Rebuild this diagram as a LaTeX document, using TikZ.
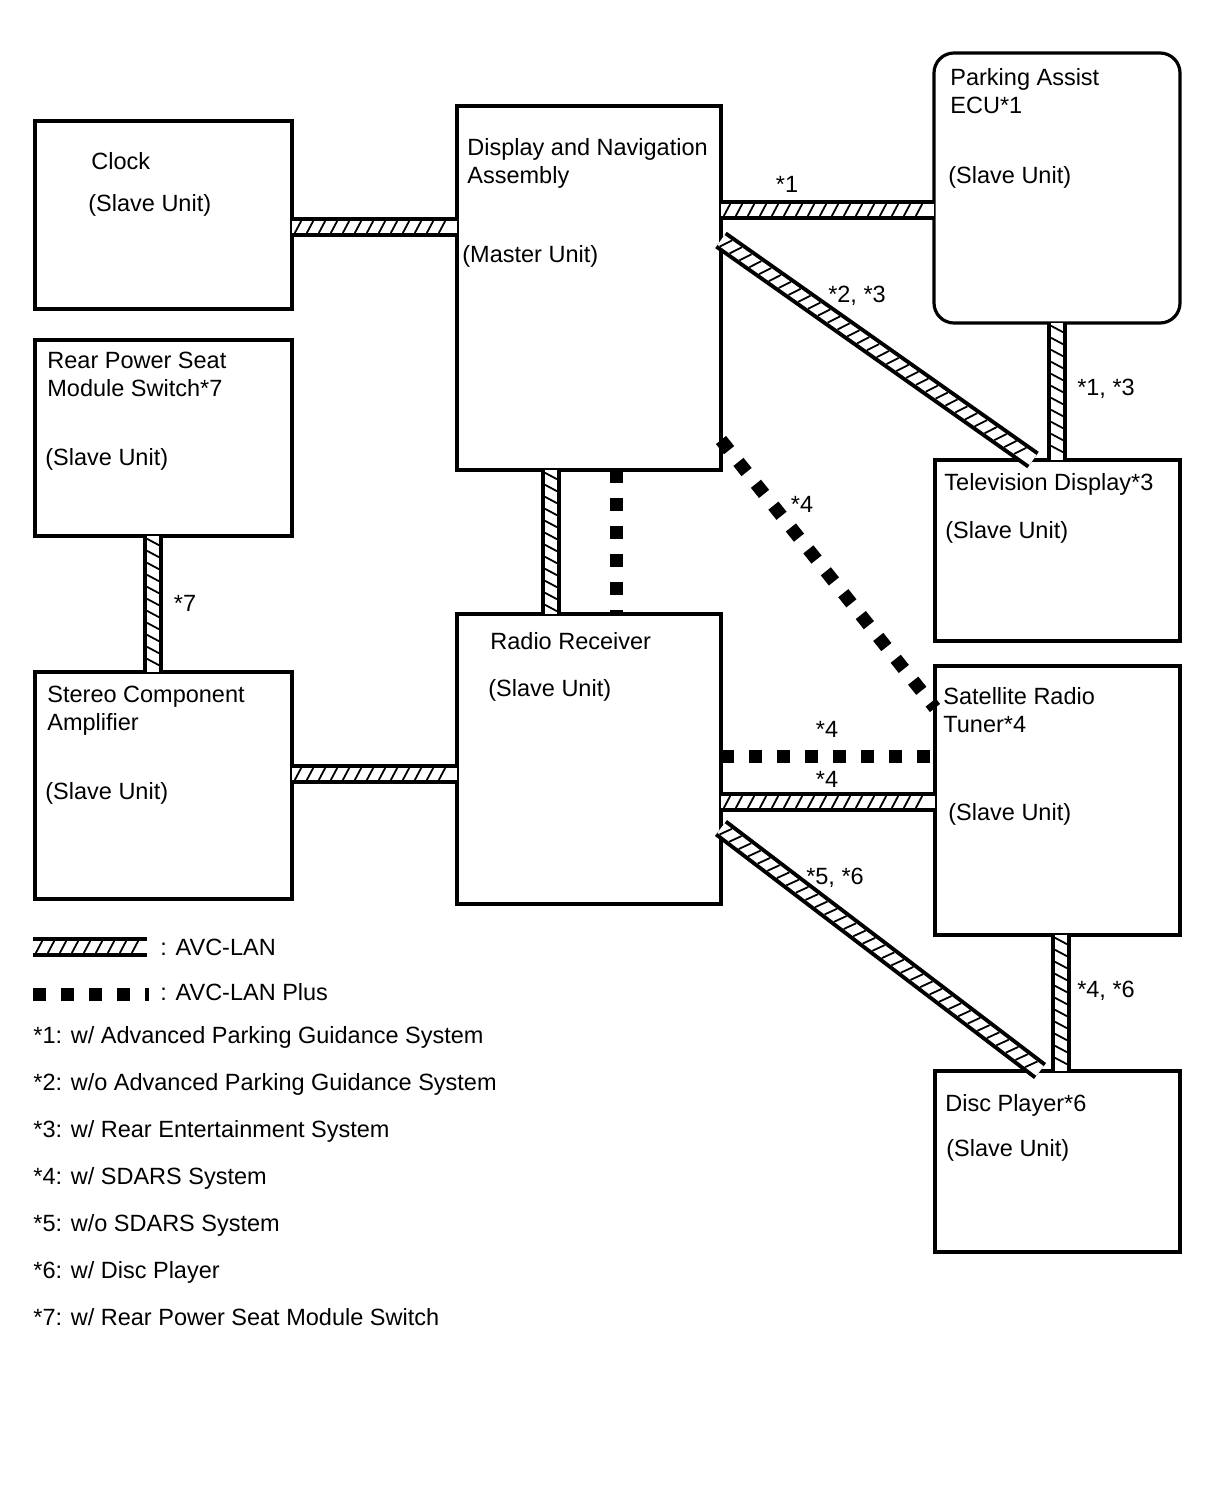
\documentclass[tikz,border=0pt]{standalone}
\usepackage{fontspec}
\setmainfont{Liberation Sans}
\usepackage{tikz}
\usetikzlibrary{decorations.markings}

\tikzset{
  unitbox/.style={draw, line width=1.6pt, inner sep=0pt, outer sep=0pt, anchor=north west},
  txt/.style={anchor=base west, inner sep=0pt},
  lbl/.style={inner sep=0pt},
  avclan/.style={line width=10pt, postaction={draw=white, line width=6pt},
    postaction={decorate, decoration={markings,
      mark=between positions 3pt and -3pt step 6pt with
        {\draw[black, solid, line width=0.9pt] (-1.6pt,-3pt) -- (1.6pt,3pt);}}}},
  avcplus/.style={line width=6.5pt, dash pattern=on 6.5pt off 7.5pt},
}

\begin{document}
\begin{tikzpicture}[x=0.5pt, y=-0.5pt, font=\fontsize{11.75}{14}\selectfont]
  \useasboundingbox (0,0) rectangle (1210,1498);

  % Units
  \node[unitbox, minimum width=128.5pt, minimum height=94pt] (clock) at (35,121) {};
  \node[unitbox, minimum width=132pt, minimum height=182pt] (dna) at (457,106) {};
  \node[unitbox, minimum width=123pt, minimum height=135pt, rounded corners=10pt] (pa) at (934,53) {};
  \node[unitbox, minimum width=128.5pt, minimum height=98pt] (rear) at (35,340) {};
  \node[unitbox, minimum width=122.5pt, minimum height=90.5pt] (tv) at (935,460) {};
  \node[unitbox, minimum width=128.5pt, minimum height=113.5pt] (stereo) at (35,672) {};
  \node[unitbox, minimum width=132pt, minimum height=145pt] (radio) at (457,614) {};
  \node[unitbox, minimum width=122.5pt, minimum height=134.5pt] (sat) at (935,666) {};
  \node[unitbox, minimum width=122.5pt, minimum height=90.5pt] (disc) at (935,1071) {};

  % Unit texts
  \node[txt] (clockname) at (91,170) {Clock};
  \node[txt] (clockrole) at (88,212) {(Slave Unit)};
  \node[txt] (dnaname) at (467,156) {Display and Navigation};
  \node[txt] (dnaname2) at (467,184) {Assembly};
  \node[txt] (dnarole) at (462,263) {(Master Unit)};
  \node[txt] (paname) at (950,86) {Parking Assist};
  \node[txt] (paname2) at (950,114) {ECU*1};
  \node[txt] (parole) at (948,184) {(Slave Unit)};
  \node[txt] (rearname) at (47,368) {Rear Power Seat};
  \node[txt] (rearname2) at (47,396) {Module Switch*7};
  \node[txt] (rearrole) at (45,465) {(Slave Unit)};
  \node[txt] (tvname) at (944,490) {Television Display*3};
  \node[txt] (tvrole) at (945,538) {(Slave Unit)};
  \node[txt] (stereoname) at (47,702) {Stereo Component};
  \node[txt] (stereoname2) at (47,730) {Amplifier};
  \node[txt] (stereorole) at (45,799) {(Slave Unit)};
  \node[txt] (radioname) at (490,649) {Radio Receiver};
  \node[txt] (radiorole) at (488,696) {(Slave Unit)};
  \node[txt] (satname) at (943,704) {Satellite Radio};
  \node[txt] (satname2) at (943,732) {Tuner*4};
  \node[txt] (satrole) at (948,820) {(Slave Unit)};
  \node[txt] (discname) at (945,1111) {Disc Player*6};
  \node[txt] (discrole) at (946,1156) {(Slave Unit)};

  % Buses
  \draw[avclan] (clock.east |- 0,227) -- (dna.west |- 0,227);
  \draw[avclan] (dna.east |- 0,210) -- (pa.west |- 0,210);
  \draw[avclan] (dna.east |- 0,240) -- (tv.north -| 1033,0);
  \draw[avclan] (pa.south -| 1057,0) -- (tv.north -| 1057,0);
  \draw[avclan] (dna.south -| 551,0) -- (radio.north -| 551,0);
  \draw[avcplus] (dna.south -| 616,0) -- (radio.north -| 616,0);
  \draw[avcplus] (dna.east |- 0,440) -- (sat.west |- 0,708);
  \draw[avclan] (rear.south -| 153,0) -- (stereo.north -| 153,0);
  \draw[avclan] (stereo.east |- 0,774) -- (radio.west |- 0,774);
  \draw[avcplus] (radio.east |- 0,756) -- (sat.west |- 0,756);
  \draw[avclan] (radio.east |- 0,802) -- (sat.west |- 0,802);
  \draw[avclan] (radio.east |- 0,828) -- (disc.north -| 1040,0);
  \draw[avclan] (sat.south -| 1061,0) -- (disc.north -| 1061,0);

  % Bus labels
  \node[lbl] (l1) at (787,184) {*1};
  \node[lbl] (l23) at (857,296) {*2, *3};
  \node[lbl] (l13) at (1106,389) {*1, *3};
  \node[lbl] (l4a) at (802,504) {*4};
  \node[lbl] (l7) at (185,603) {*7};
  \node[lbl] (l4b) at (827,729) {*4};
  \node[lbl] (l4c) at (827,779) {*4};
  \node[lbl] (l56) at (835,878) {*5, *6};
  \node[lbl] (l46) at (1106,991) {*4, *6};

  % Legend
  \coordinate (lanA) at (33,947);
  \coordinate (lanB) at (147,947);
  \draw[avclan] (lanA) -- (lanB);
  \coordinate (plusA) at (33,994);
  \coordinate (plusB) at (149,994);
  \draw[avcplus] (plusA) -- (plusB);
  \node[txt] (lanname) at (160,955) {: AVC-LAN};
  \node[txt] (plusname) at (160,1000) {: AVC-LAN Plus};

  % Notes
  \node[txt] (n1) at (33,1043) {*1: w/ Advanced Parking Guidance System};
  \node[txt] (n2) at (33,1090) {*2: w/o Advanced Parking Guidance System};
  \node[txt] (n3) at (33,1137) {*3: w/ Rear Entertainment System};
  \node[txt] (n4) at (33,1184) {*4: w/ SDARS System};
  \node[txt] (n5) at (33,1231) {*5: w/o SDARS System};
  \node[txt] (n6) at (33,1278) {*6: w/ Disc Player};
  \node[txt] (n7) at (33,1325) {*7: w/ Rear Power Seat Module Switch};
\end{tikzpicture}
\end{document}
